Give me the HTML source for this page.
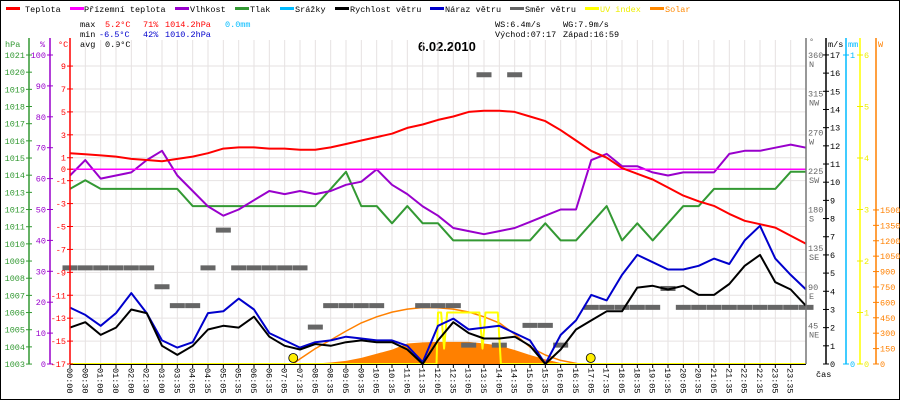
<!DOCTYPE html>
<html><head><meta charset="utf-8">
<style>
html,body{margin:0;padding:0;background:#fff;}
svg{display:block;font-family:"Liberation Mono",monospace;}
</style></head>
<body>
<svg id="c" width="900" height="400" viewBox="0 0 900 400" xmlns="http://www.w3.org/2000/svg">
<rect x="0.5" y="0.5" width="899" height="399" fill="#fff" stroke="#000"/>
<g font-size="8.5">
<g><rect x="6" y="7" width="14" height="3" fill="#f00"/><text x="25" y="12">Teplota</text></g>
<g><rect x="70" y="7" width="14" height="3" fill="#f0f"/><text x="84" y="12">Přízemní teplota</text></g>
<g><rect x="175" y="7" width="14" height="3" fill="#90c"/><text x="190" y="12">Vlhkost</text></g>
<g><rect x="235" y="7" width="14" height="3" fill="#393"/><text x="250" y="12">Tlak</text></g>
<g><rect x="280" y="7" width="14" height="3" fill="#0bf"/><text x="295" y="12">Srážky</text></g>
<g><rect x="335" y="7" width="14" height="3" fill="#000"/><text x="350" y="12">Rychlost větru</text></g>
<g><rect x="430" y="7" width="14" height="3" fill="#00c"/><text x="445" y="12">Náraz větru</text></g>
<g><rect x="510" y="7" width="14" height="3" fill="#666"/><text x="525" y="12">Směr větru</text></g>
<g><rect x="585" y="7" width="14" height="3" fill="#ff0"/><text x="600" y="12" fill="#ee0">UV index</text></g>
<g><rect x="650" y="7" width="14" height="3" fill="#f80"/><text x="665" y="12" fill="#f80">Solar</text></g>
</g>
<g font-size="8.5">
<text x="80" y="27">max</text><text x="105" y="27" fill="#f00">5.2°C</text><text x="143" y="27" fill="#f00">71%</text><text x="165" y="27" fill="#f00">1014.2hPa</text><text x="225" y="27" fill="#0bf">0.0mm</text>
<text x="80" y="37">min</text><text x="99" y="37" fill="#00c">-6.5°C</text><text x="143" y="37" fill="#00c">42%</text><text x="165" y="37" fill="#00c">1010.2hPa</text>
<text x="80" y="47">avg</text><text x="105" y="47">0.9°C</text>
<text x="495" y="27">WS:6.4m/s</text><text x="563" y="27">WG:7.9m/s</text>
<text x="495" y="37">Východ:07:17</text><text x="563" y="37">Západ:16:59</text>
</g>
<text x="418" y="51" font-family="Liberation Sans,sans-serif" font-weight="bold" font-size="13">6.02.2010</text>
<g id="plot"></g>
</svg>
<script>
const times = [];
for (let i = 0; i <= 48; i++) times.push(i / 2);
const tempC = [1.4,1.3,1.2,1.1,0.9,0.8,0.7,0.9,1.1,1.4,1.8,1.9,1.9,1.8,1.8,1.7,1.7,1.9,2.2,2.5,2.8,3.1,3.6,3.9,4.3,4.6,5.0,5.1,5.1,5.0,4.6,4.2,3.4,2.5,1.6,1.0,0.1,-0.4,-0.9,-1.6,-2.3,-2.8,-3.2,-3.9,-4.5,-4.8,-5.1,-5.8,-6.5];
const apparentC = [0,0,0,0,0,0,0,0,0,0,0,0,0,0,0,0,0,0,0,0,0,0,0,0,0,0,0,0,0,0,0,0,0,0,0,0,0,0,0,0,0,0,0,0,0,0,0,0,0];
const humidity = [61,66,60,61,62,66,69,61,56,51,48,50,53,56,55,56,55,56,58,59,63,58,55,51,48,44,43,42,43,44,46,48,50,50,66,68,64,64,62,61,62,62,62,68,69,69,70,71,70];
const pressure = [1013.2,1013.7,1013.2,1013.2,1013.2,1013.2,1013.2,1013.2,1012.2,1012.2,1012.2,1012.2,1012.2,1012.2,1012.2,1012.2,1012.2,1013.2,1014.2,1012.2,1012.2,1011.2,1012.2,1011.2,1011.2,1010.2,1010.2,1010.2,1010.2,1010.2,1010.2,1011.2,1010.2,1010.2,1011.2,1012.2,1010.2,1011.2,1010.2,1011.2,1012.2,1012.2,1013.2,1013.2,1013.2,1013.2,1013.2,1014.2,1014.2];
const windSpeed = [2.0,2.3,1.6,2.0,3.0,2.8,1.0,0.5,1.0,1.9,2.1,2.0,2.6,1.5,1.0,0.8,1.1,1.0,1.2,1.3,1.2,1.2,0.8,0,1.3,2.3,1.7,1.4,1.4,1.5,1.0,0,0.8,1.9,2.4,2.9,2.9,4.2,4.3,4.1,4.3,3.8,3.8,4.4,5.4,6.0,4.5,4.1,3.2];
const windGust = [3.1,2.7,2.1,2.8,3.9,2.8,1.3,0.9,1.2,2.8,2.9,3.6,3.0,1.7,1.3,0.9,1.2,1.3,1.5,1.4,1.3,1.3,1.0,0.1,2.1,2.5,1.9,2.0,2.1,1.7,1.3,0,1.6,2.4,3.8,3.5,4.9,6.0,5.6,5.2,5.2,5.4,5.8,5.5,6.8,7.6,5.8,4.9,4.1];
const windDir = [112,112,112,112,112,112,90,68,68,112,156,112,112,112,112,112,43,68,68,68,68,null,null,68,68,68,22,337,22,337,45,45,22,null,66,66,66,66,66,88,66,66,66,66,66,66,66,66,66];
const solar = [0,0,0,0,0,0,0,0,0,0,0,0,0,0,0,0,5,15,30,60,100,140,200,210,215,215,215,200,180,136,88,45,10,0,0,0,0,0,0,0,0,0,0,0,0,0,0,0,0];
const solarMaxTimes = [7.27,7.5,8,8.5,9,9.5,10,10.5,11,11.5,12,12.5,13,13.5,14,14.5,15,15.5,16,16.6];
const solarMax = [0,50,150,234,320,400,460,505,535,550,548,535,506,460,400,290,165,88,35,0];
const uvTimes = [0,11.95,12.0,12.1,12.2,12.3,13.35,13.45,13.55,13.95,14.05,24];
const uvIndex = [0,0,1,1,0.3,1,1,0.3,1,1,0,0];
const sunTimes = [7.28,16.98];
const xLabels = ["00:00","00:30","01:00","01:30","02:00","02:30","03:00","03:35","04:05","04:35","05:05","05:35","06:05","06:35","07:05","07:35","08:05","08:35","09:05","09:35","10:05","10:35","11:05","11:35","12:05","12:35","13:05","13:35","14:05","14:35","15:05","15:35","16:05","16:35","17:05","17:35","18:05","18:35","19:05","19:35","20:05","20:35","21:05","21:35","22:05","22:35","23:05","23:35"];
const hpaTicks = [1021,1020,1019,1018,1017,1016,1015,1014,1013,1012,1011,1010,1009,1008,1007,1006,1005,1004,1003];
const pctTicks = [100,90,80,70,60,50,40,30,20,10,0];
const tempTicks = [9,7,5,3,1,0,-1,-3,-5,-7,-9,-11,-13,-15,-17];
const dirTicks = [360,315,270,225,180,135,90,45];
const dirNames = ["N","NW","W","SW","S","SE","E","NE"];
const msTicks = [0,1,2,3,4,5,6,7,8,9,10,11,12,13,14,15,16,17];
const uvTicks = [0,1,2,3,4,5,6];
const wTicks = [0,150,300,450,600,750,900,1050,1200,1350,1500];

const X = t => 70 + t * 30.667;
const yT = c => 169.2 - c * 11.46;
const yP = h => 55 + (1021 - h) * 17.17;
const yH = p => 364 - p * 3.09;
const yW = v => 364 - v * 18.18;
const yD = d => 364 - d * 0.8583;
const yUV = u => 364 - u * 51.5;
const yS = w => 364 - w * 0.1027;

const NS = "http://www.w3.org/2000/svg";
const plot = document.getElementById('plot');
function mk(tag, attrs, parent) {
  const e = document.createElementNS(NS, tag);
  for (const k in attrs) e.setAttribute(k, attrs[k]);
  (parent || plot).appendChild(e);
  return e;
}
function txt(x, y, s, fill, anchor) {
  const e = mk('text', {x: x, y: y, fill: fill, 'font-size': 8.5, 'text-anchor': anchor || 'start'});
  e.textContent = s;
  return e;
}
// grid
for (let i = 0; i <= 48; i++) {
  const g = mk('line', {x1: X(i/2), x2: X(i/2), y1: 40, y2: 364, stroke: '#e6e2e2', 'stroke-width': 1});
  
  
}
tempTicks.forEach(c => {
  if (c === 0) return;
  const g = mk('line', {x1: 70, x2: 806, y1: yT(c), y2: yT(c), stroke: '#e6e2e2', 'stroke-width': 1});
  
  
});
// solar area
let sp = 'M' + X(0) + ',364 ';
times.forEach((t, i) => { sp += 'L' + X(t) + ',' + yS(solar[i]) + ' '; });
sp += 'L' + X(24) + ',364 Z';
const sa = mk('path', {d: sp, fill: '#ff8000', stroke: 'none'});


function line(xsArr, ysArr, xf, yf, color, w, name) {
  let d = '';
  xsArr.forEach((t, i) => { d += (i ? 'L' : 'M') + X(t).toFixed(1) + ',' + yf(ysArr[i]).toFixed(1) + ' '; });
  const p = mk('path', {d: d, fill: 'none', stroke: color, 'stroke-width': w, 'stroke-linejoin': 'round'});
  
  
  return p;
}
line(solarMaxTimes, solarMax, X, yS, '#ff8000', 1.5, 'solar-max-line');
// wind direction
times.forEach((t, i) => {
  if (windDir[i] === null) return;
  const r = mk('rect', {x: X(t) - 7.5, y: yD(windDir[i]) - 2.5, width: 15, height: 5, fill: '#666'});
  
  
});
// zero line apparent
line(times, pressure, X, yP, '#339933', 2, 'pressure-line');
line(times, humidity, X, yH, '#9900cc', 2, 'humidity-line');
line(times, apparentC, X, yT, '#ff00ff', 1.5, 'apparent-temp-line');
line(times, tempC, X, yT, '#ff0000', 2, 'temperature-line');
line(uvTimes, uvIndex, X, yUV, '#ffff00', 2, 'uv-index-line');
line(times, windGust, X, yW, '#0000cc', 2, 'wind-gust-line');
line(times, windSpeed, X, yW, '#000000', 2, 'wind-speed-line');
sunTimes.forEach(t => {
  const c = mk('circle', {cx: X(t), cy: 358, r: 4.5, fill: '#ffee00', stroke: '#000', 'stroke-width': 0.8});
  
  
});
// bottom axis
const ba = mk('line', {x1: 70, x2: 806, y1: 364.5, y2: 364.5, stroke: '#000', 'stroke-width': 1});


xLabels.forEach((s, i) => {
  const x = X(i / 2);
  mk('line', {x1: x, x2: x, y1: 365, y2: 368, stroke: '#000'});
  const t = mk('text', {x: 0, y: 0, 'font-size': 8.5, transform: 'translate(' + (x - 3) + ',368) rotate(90)'});
  t.textContent = s;
  
  
});
txt(816, 377, 'čas', '#000');
// left axes
function vaxis(x, color, name) {
  const a = mk('line', {x1: x, x2: x, y1: 38, y2: 364, stroke: color, 'stroke-width': 1.5});
  
  
}
vaxis(29, '#339933', 'pressure-axis');
vaxis(50, '#9900cc', 'humidity-axis');
vaxis(70, '#ff0000', 'temperature-axis');
txt(5, 47, 'hPa', '#339933'); txt(40, 47, '%', '#9900cc'); txt(58, 47, '°C', '#ff0000');
hpaTicks.forEach(h => { mk('line', {x1: 26, x2: 32, y1: yP(h), y2: yP(h), stroke: '#339933'}); txt(25, yP(h) + 3, String(h), '#339933', 'end'); });
pctTicks.forEach(p => { mk('line', {x1: 47, x2: 53, y1: yH(p), y2: yH(p), stroke: '#9900cc'}); txt(46, yH(p) + 3, String(p), '#9900cc', 'end'); });
tempTicks.forEach(c => { mk('line', {x1: 67, x2: 73, y1: yT(c), y2: yT(c), stroke: '#ff0000'}); txt(66, yT(c) + 3, String(c), '#ff0000', 'end'); });
// right axes
vaxis(806, '#777', 'wind-direction-axis');
vaxis(826, '#000', 'wind-speed-axis');
vaxis(846, '#00bbff', 'rain-axis');
vaxis(860, '#ffff00', 'uv-axis');
vaxis(876, '#ff8000', 'solar-axis');
txt(809, 44, '°', '#666'); txt(828, 47, 'm/s', '#000'); txt(848, 47, 'mm', '#00bbff'); txt(878, 47, 'W', '#ff8000');
dirTicks.forEach((d, i) => { txt(808, yD(d) + 3, String(d), '#666'); txt(809, yD(d) + 12, dirNames[i], '#666'); });
msTicks.forEach(v => { mk('line', {x1: 823, x2: 829, y1: yW(v), y2: yW(v), stroke: '#000'}); txt(830, yW(v) + 3, String(v), '#000'); });
[0, 1].forEach(v => { mk('line', {x1: 843, x2: 849, y1: v ? 55 : 364, y2: v ? 55 : 364, stroke: '#00bbff'}); txt(850, (v ? 55 : 364) + 3, String(v), '#00bbff'); });
uvTicks.forEach(v => { mk('line', {x1: 857, x2: 863, y1: yUV(v), y2: yUV(v), stroke: '#ee0'}); txt(864, yUV(v) + 3, String(v), '#ee0'); });
wTicks.forEach(v => { mk('line', {x1: 873, x2: 879, y1: yS(v), y2: yS(v), stroke: '#ff8000'}); txt(880, yS(v) + 3, String(v), '#ff8000'); });
</script>
</body></html>
